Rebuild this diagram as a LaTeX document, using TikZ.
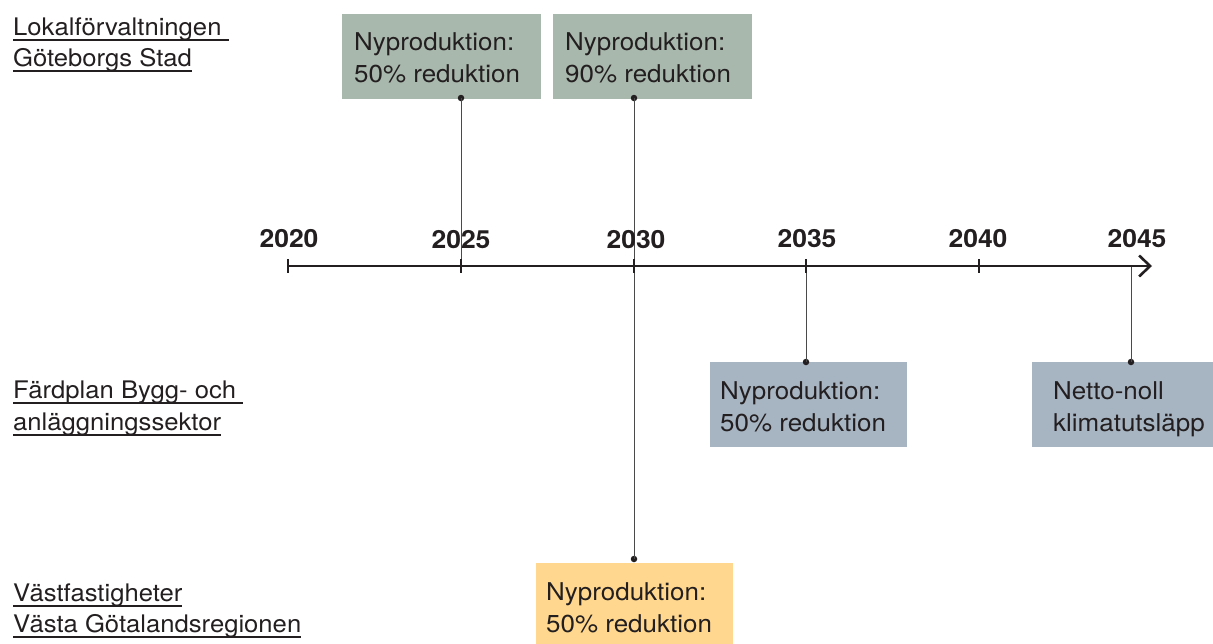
\documentclass[tikz,border=0pt]{standalone}
\usepackage{fontspec}
\setmainfont{TeX Gyre Heros}[FakeStretch=1.06]
\usetikzlibrary{arrows.meta}
\definecolor{txtc}{HTML}{231F20}
\definecolor{greenc}{HTML}{A9B8AD}
\definecolor{bluec}{HTML}{A7B4C2}
\definecolor{yellowc}{HTML}{FFD78E}
\definecolor{connc}{HTML}{4A4A4A}
\newcommand\ulbox[1]{\setbox0=\hbox{#1}\rlap{\rule[-5.5pt]{\wd0}{1.2pt}}\box0}
\begin{document}
\begin{tikzpicture}[x=1pt,y=-1pt,
  txt/.style={font=\fontsize{24.5}{32}\selectfont, text=txtc, inner sep=0pt, anchor=base west},
  lbl/.style={txt, font=\fontsize{24.2}{32}\selectfont},
  year/.style={font=\fontsize{25}{30}\selectfont\bfseries, text=txtc, inner sep=0pt, anchor=base},
  boxfill/.style={draw=none, inner sep=0pt, anchor=north west},
  dotn/.style={circle, fill=txtc, inner sep=0pt, minimum size=6.5pt},
  conn/.style={draw=connc, line width=0.9pt},
  axisline/.style={draw=txtc, line width=2.6pt},
  tickline/.style={draw=txtc, line width=2.2pt}]
\useasboundingbox (0,0) rectangle (1213,643);

% boxes
\node[boxfill, fill=greenc, minimum width=199pt, minimum height=85pt] (boxA) at (342,14) {};
\node[boxfill, fill=greenc, minimum width=199pt, minimum height=85pt] (boxB) at (553,14) {};
\node[boxfill, fill=yellowc, minimum width=197pt, minimum height=90pt] (boxC) at (536,563) {};
\node[boxfill, fill=bluec, minimum width=197pt, minimum height=85pt] (boxD) at (710,362) {};
\node[boxfill, fill=bluec, minimum width=190pt, minimum height=85pt] (boxE) at (1032,362) {};

% axis coordinates
\coordinate (t2020) at (288,266);
\coordinate (t2025) at (461,266);
\coordinate (t2030) at (634,266);
\coordinate (t2035) at (806,266);
\coordinate (t2040) at (979,266);
\coordinate (t2045) at (1131,266);
\coordinate (axend) at (1152,266);

% dots
\node[dotn] (dA) at (461,98) {};
\node[dotn] (dB) at (634,98) {};
\node[dotn] (dC) at (634,559) {};
\node[dotn] (dD) at (806,362) {};
\node[dotn] (dE) at (1131,362) {};

% connectors
\draw[conn] (dA.center) -- (t2025);
\draw[conn] (dB.center) -- (dC.center);
\draw[conn] (t2035) -- (dD.center);
\draw[conn] (t2045) -- (dE.center);

% axis
\draw[axisline, -{Straight Barb[length=11pt,width=21pt]}] (t2020) -- (axend);
\foreach \t in {t2020,t2025,t2030,t2035,t2040}
  \draw[tickline] (\t) ++(0,-7) -- ++(0,14);

% year labels
\node[year] (y2020) at (289,247) {2020};
\node[year] (y2025) at (461,248) {2025};
\node[year] (y2030) at (636,248) {2030};
\node[year] (y2035) at (807,247) {2035};
\node[year] (y2040) at (978,247) {2040};
\node[year] (y2045) at (1137,247) {2045};

% box texts
\node[txt] (a1) at (354,50) {Nyproduktion:};
\node[txt] (a2) at (354,82) {50\% reduktion};
\node[txt] (b1) at (565,50) {Nyproduktion:};
\node[txt] (b2) at (565,82) {90\% reduktion};
\node[txt] (c1) at (546,600) {Nyproduktion:};
\node[txt] (c2) at (546,632) {50\% reduktion};
\node[txt] (d1) at (720,399) {Nyproduktion:};
\node[txt] (d2) at (720,431) {50\% reduktion};
\node[txt] (e1) at (1053,399) {Netto-noll};
\node[txt] (e2) at (1053,431) {klimatutsläpp};

% left labels
\node[lbl] (l1a) at (13,35) {\ulbox{Lokalförvaltningen\ }};
\node[lbl] (l1b) at (13,66) {\ulbox{Göteborgs Stad}};
\node[lbl] (l2a) at (13,398) {\ulbox{Färdplan Bygg- och\ }};
\node[lbl] (l2b) at (13,430) {\ulbox{anläggningssektor}};
\node[lbl] (l3a) at (13,601) {\ulbox{Västfastigheter}};
\node[lbl] (l3b) at (13,632) {\ulbox{Västa Götalandsregionen}};
\end{tikzpicture}
\end{document}
